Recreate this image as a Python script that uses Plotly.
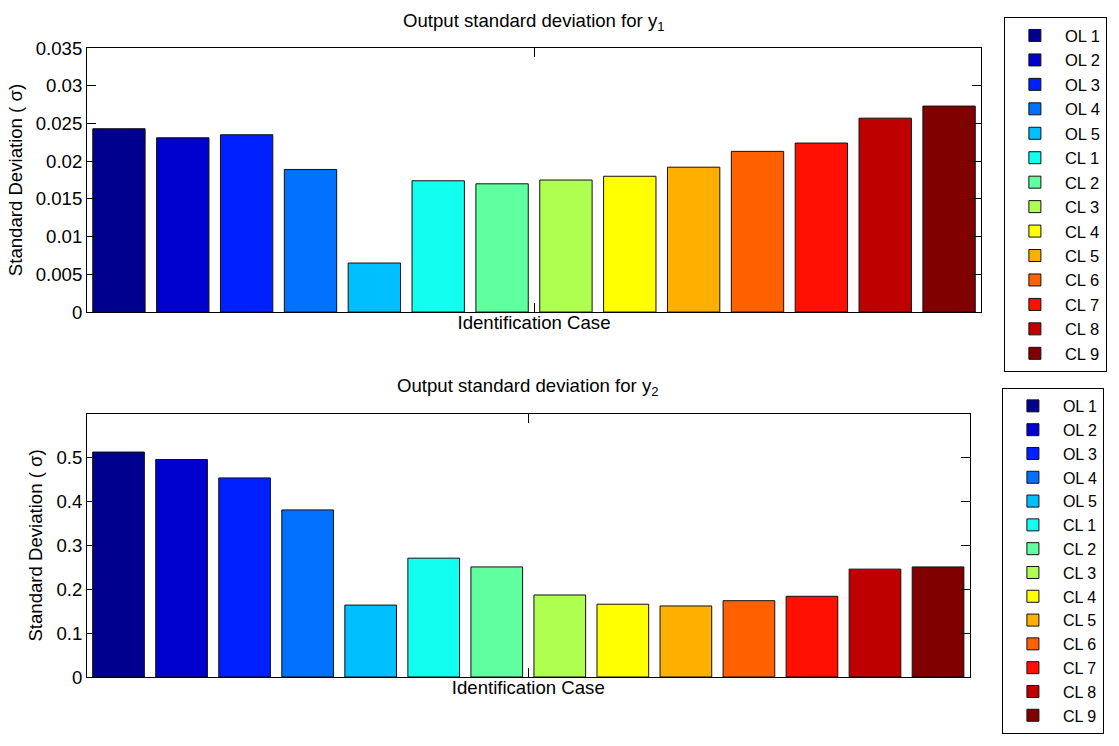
import plotly.graph_objects as go

# ---- data ----
cases = ["OL 1", "OL 2", "OL 3", "OL 4", "OL 5", "CL 1", "CL 2", "CL 3",
         "CL 4", "CL 5", "CL 6", "CL 7", "CL 8", "CL 9"]
std_y1 = [0.0243, 0.0231, 0.0235, 0.0189, 0.0065, 0.0174, 0.0170, 0.0175,
          0.0180, 0.0192, 0.0213, 0.0224, 0.0257, 0.0273]
std_y2 = [0.513, 0.496, 0.454, 0.381, 0.164, 0.271, 0.251, 0.187,
          0.166, 0.162, 0.174, 0.184, 0.246, 0.251]
colors = ["#00008F", "#0000CF", "#0020FF", "#0070FF", "#00BFFF", "#10FFEF",
          "#60FF9F", "#AFFF50", "#FFFF00", "#FFAF00", "#FF6000", "#FF1000",
          "#BF0000", "#800000"]
y1_ticks = [0, 0.005, 0.01, 0.015, 0.02, 0.025, 0.03, 0.035]
y1_ticktext = ["0", "0.005", "0.01", "0.015", "0.02", "0.025", "0.03", "0.035"]
y2_ticks = [0, 0.1, 0.2, 0.3, 0.4, 0.5]
y2_ticktext = ["0", "0.1", "0.2", "0.3", "0.4", "0.5"]

FONT = "Liberation Sans, Arial, Helvetica, sans-serif"
FS = 18.6
fig = go.Figure()

for i, (name, v, c) in enumerate(zip(cases, std_y1, colors)):
    fig.add_trace(go.Bar(x=[i], y=[v], name=name, width=0.82,
                         marker=dict(color=c, line=dict(color="#111111", width=1)),
                         xaxis="x", yaxis="y", legend="legend"))
for i, (name, v, c) in enumerate(zip(cases, std_y2, colors)):
    fig.add_trace(go.Bar(x=[i], y=[v], name=name, width=0.82,
                         marker=dict(color=c, line=dict(color="#111111", width=1)),
                         xaxis="x2", yaxis="y2", legend="legend2"))

n = len(cases)
xcommon = dict(range=[-0.5, n - 0.5], showline=True, linecolor="black", linewidth=1,
               mirror="ticks", ticks="inside", ticklen=9, tickcolor="black",
               tickvals=[(n - 1) / 2], showticklabels=False, showgrid=False,
               zeroline=False,
               title=dict(text="Identification Case", font=dict(size=FS, family=FONT, color="black"),
                          standoff=3))
ycommon = dict(showline=True, linecolor="black", linewidth=1, mirror="ticks",
               ticks="inside", ticklen=9, tickcolor="black", showgrid=False,
               zeroline=False, tickfont=dict(size=FS, family=FONT, color="black"),
               title=dict(text="Standard Deviation ( σ)", font=dict(size=FS, family=FONT, color="black"),
                          standoff=8))

legend_common = dict(bgcolor="white", bordercolor="black", borderwidth=1,
                     itemwidth=50, xanchor="left", yanchor="top",
                     itemclick=False, itemdoubleclick=False)

fig.update_layout(
    width=1119, height=746,
    margin=dict(l=87, r=133, t=48, b=43),
    paper_bgcolor="white", plot_bgcolor="white",
    barmode="overlay",
    font=dict(family=FONT, size=FS, color="black"),
    xaxis=dict(domain=[0, 1], anchor="y", **xcommon),
    yaxis=dict(domain=[0.5802, 1], anchor="x", range=[0, 0.035],
               tickvals=y1_ticks, ticktext=y1_ticktext, **ycommon),
    xaxis2=dict(domain=[0, 0.9872], anchor="y2", **xcommon),
    yaxis2=dict(domain=[0, 0.4183], anchor="x2", range=[0, 0.6],
                tickvals=y2_ticks, ticktext=y2_ticktext, **ycommon),
    legend=dict(x=1.0256, y=1.0489, font=dict(size=16.5, family=FONT, color="black"),
                **legend_common),
    legend2=dict(x=1.0234, y=0.4595, font=dict(size=16, family=FONT, color="black"),
                 **legend_common),
    annotations=[
        dict(text="Output standard deviation for y<sub>1</sub>", xref="paper", yref="paper",
             x=0.5, y=1.0412, xanchor="center", yanchor="middle", showarrow=False,
             font=dict(size=FS, family=FONT, color="black")),
        dict(text="Output standard deviation for y<sub>2</sub>", xref="paper", yref="paper",
             x=0.4936, y=0.461, xanchor="center", yanchor="middle", showarrow=False,
             font=dict(size=FS, family=FONT, color="black")),
    ],
)

fig.write_html("out.html")
